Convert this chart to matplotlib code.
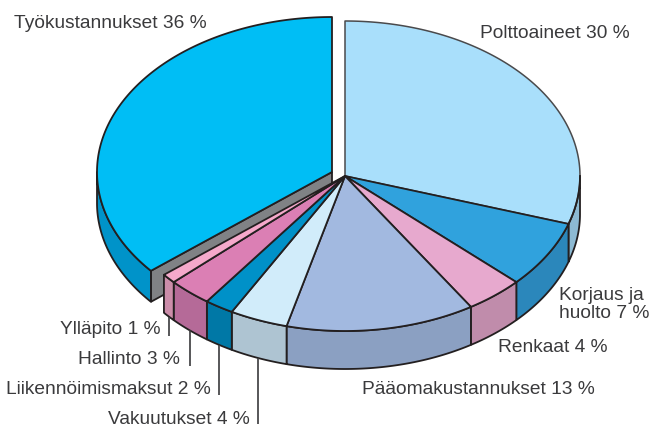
import numpy as np
import matplotlib
matplotlib.use("Agg")
import matplotlib.pyplot as plt

plt.rcParams['font.family'] = ['Liberation Sans', 'DejaVu Sans']

categories = ["Polttoaineet", "Korjaus ja\nhuolto", "Renkaat", "Pääomakustannukset",
              "Vakuutukset", "Liikennöimismaksut", "Hallinto", "Ylläpito", "Työkustannukset"]
values = [30, 7, 4, 13, 4, 2, 3, 1, 36]
top_colors = ["#A9DFFB", "#30A2DD", "#E7A9CE", "#A2B9E0", "#D1ECFA",
              "#0091C8", "#DB7FB4", "#F5A9CB", "#00BEF5"]
side_colors = ["#8DBAD3", "#2B87BB", "#C08CAB", "#8BA0C2", "#AEC4D2",
               "#0078A6", "#B56A98", "#CC8DAA", "#0093C9"]

CX, CY, RX, RY, DEPTH = 345, 176, 235, 155, 38
EX, EY, EDEPTH = 332, 172, 31
INK = "#231F20"
TXT = "#3A3A3C"
LW = 1.3

fig = plt.figure(figsize=(6.53, 4.30), dpi=100)
ax = fig.add_axes([0, 0, 1, 1])
ax.set_xlim(0, 653)
ax.set_ylim(430, 0)
ax.axis("off")


def rim(cx, cy, a0, a1):
    t = np.radians(np.linspace(a0, a1, 200))
    return cx + RX * np.sin(t), cy - RY * np.cos(t)


def draw_side(cx, cy, a0, a1, depth, color, lw=LW):
    lo, hi = max(a0, 90), min(a1, 270)
    if hi <= lo:
        return
    x, y = rim(cx, cy, lo, hi)
    ax.fill(np.r_[x, x[::-1]], np.r_[y, y[::-1] + depth], fc=color, ec=INK, lw=lw,
            joinstyle="round")


def draw_top(cx, cy, a0, a1, color, lw=LW, ec=INK):
    x, y = rim(cx, cy, a0, a1)
    ax.fill(np.r_[cx, x], np.r_[cy, y], fc=color, ec=ec, lw=lw, joinstyle="round")


edges = np.r_[0, np.cumsum(values)] * 3.6

# exploded slice: grey cut wall, side, top
a0, a1 = edges[-2], edges[-1]
x0, y0 = rim(EX, EY, a0, a0 + 1e-6)
ax.fill([EX, x0[0], x0[0], EX], [EY, y0[0], y0[0] + EDEPTH, EY + EDEPTH],
        fc="#808285", ec=INK, lw=LW)
draw_side(EX, EY, a0, a1, EDEPTH, side_colors[-1])
draw_top(EX, EY, a0, a1, top_colors[-1])

# main body
for i in range(len(values) - 1):
    draw_side(CX, CY, edges[i], edges[i + 1], DEPTH, side_colors[i])
for i in range(len(values) - 1):
    if i == 0:
        draw_top(CX, CY, edges[i], edges[i + 1], top_colors[i], lw=1.1, ec="#4A4A4C")
    else:
        draw_top(CX, CY, edges[i], edges[i + 1], top_colors[i])
x, y = rim(CX, CY, 90, 108)
ax.plot(x, y, color=INK, lw=LW)

# leader lines
for lx, y0_, y1_ in [(169, 317, 336), (190, 330, 366), (219, 345, 395), (258, 358, 424)]:
    ax.plot([lx, lx], [y0_, y1_], color="#3A3A3C", lw=1.2, solid_capstyle="butt")

FS = 13.75
labels = [
    (f"{categories[8]} {values[8]} %", 14, 23, "left"),
    (f"{categories[0]} {values[0]} %", 480, 34, "left"),
    ("Korjaus ja", 559, 296, "left"),
    (f"huolto {values[1]} %", 559, 314, "left"),
    (f"{categories[2]} {values[2]} %", 498, 347, "left"),
    (f"{categories[3]} {values[3]} %", 362, 390, "left"),
    (f"{categories[7]} {values[7]} %", 161, 329, "right"),
    (f"{categories[6]} {values[6]} %", 180, 360, "right"),
    (f"{categories[5]} {values[5]} %", 211, 389, "right"),
    (f"{categories[4]} {values[4]} %", 250, 419, "right"),
]
for s, x_, y_, ha in labels:
    ax.text(x_, y_, s, fontsize=FS, color=TXT, ha=ha, va="center")

fig.savefig("out.png", dpi=100, facecolor="white")
